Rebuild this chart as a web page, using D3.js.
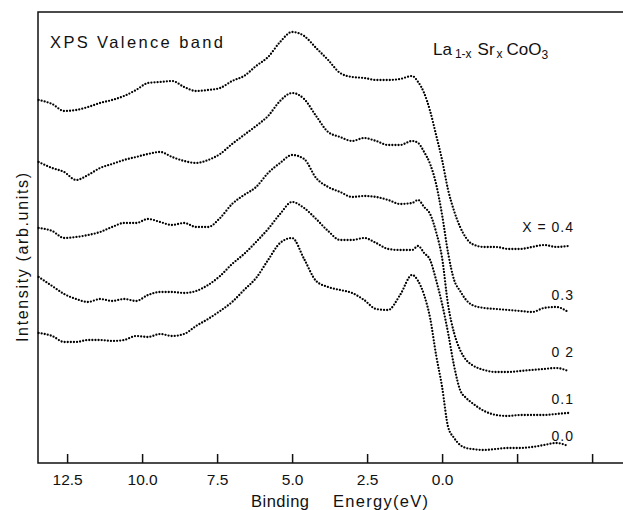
<!DOCTYPE html>
<html>
<head>
<meta charset="utf-8">
<title>XPS Valence band</title>
<script src="https://cdn.jsdelivr.net/npm/d3@7/dist/d3.min.js"></script>
<style>
  body { margin: 0; background: #fff; }
  text { font-family: "Liberation Sans", Arial, sans-serif; fill: #111; }
  .frame { fill: none; stroke: #111; stroke-width: 1.5px; }
  .spec { fill: none; stroke: #000; stroke-width: 2.3px; stroke-linecap: round; stroke-dasharray: 0 3.1; }
</style>
</head>
<body>
<div id="chart"></div>
<script>
// binding energy grid (eV), shared by all spectra
var energy = [13.45, 13.0, 12.6, 12.2, 11.8, 11.4, 11.0, 10.6, 10.2, 9.8, 9.4, 9.0, 8.6, 8.2, 7.8, 7.4, 7.0, 6.6, 6.2, 5.8,
  5.4, 5.0, 4.6, 4.2, 3.8, 3.4, 3.0, 2.6, 2.2, 1.8, 1.4, 1.0, 0.8, 0.6, 0.4, 0.2, 0.0, -0.2, -0.4, -0.6,
  -0.8, -1.0, -1.4, -1.8, -2.2, -2.6, -3.0, -3.4, -3.8, -4.2];

// intensity (arb. units, curves already offset as in the figure)
var x04 = [363, 359, 352, 353, 356, 360, 363, 367, 373, 380, 381, 382, 376, 372, 373, 375, 382, 387, 397, 406,
  421, 431, 427, 415, 403, 390, 386, 385, 383, 383, 384, 387, 381, 370, 352, 328, 303, 273, 252, 236,
  225, 219, 216, 216, 214, 214, 216, 218, 216, 217];
var x03 = [301, 295, 291, 283, 288, 295, 299, 303, 306, 309, 311, 306, 302, 300, 303, 309, 319, 328, 337, 347,
  362, 370, 364, 347, 331, 326, 322, 325, 322, 318, 318, 322, 320, 311, 299, 279, 248, 210, 183, 172,
  163, 158, 155, 154, 153, 152, 151, 155, 156, 151];
var x02 = [235, 232, 225, 226, 228, 231, 236, 240, 240, 244, 241, 238, 240, 236, 236, 245, 259, 268, 276, 290,
  300, 308, 304, 285, 276, 271, 266, 267, 266, 263, 259, 260, 263, 256, 249, 231, 205, 158, 130, 113,
  103, 98, 93, 91, 91, 92, 93, 94, 95, 92];
var x01 = [186, 177, 169, 164, 161, 164, 162, 164, 162, 168, 171, 171, 170, 172, 178, 187, 199, 209, 221, 234,
  249, 261, 255, 244, 232, 223, 223, 225, 220, 214, 213, 213, 217, 210, 203, 183, 159, 130, 97, 73,
  65, 60, 52, 48, 47, 48, 48, 48, 49, 50];
var x00 = [130, 127, 121, 121, 123, 123, 122, 123, 127, 126, 129, 127, 129, 137, 144, 152, 161, 173, 185, 203,
  220, 225, 204, 182, 176, 173, 170, 163, 154, 153, 168, 188, 182, 168, 145, 108, 76, 36, 25, 18,
  15, 14, 13, 14, 15, 15, 16, 18, 20, 17];

var series = [x04, x03, x02, x01, x00];
var seriesLabels = ["X = 0.4", "0.3", "0 2", "0.1", "0.0"];

var tickValues = [12.5, 10.0, 7.5, 5.0, 2.5, 0.0, -2.5, -5.0];
var tickLabels = ["12.5", "10.0", "7.5", "5.0", "2.5", "0.0", "", ""];

var width = 623, height = 510;
var marginLeft = 38, marginTop = 12, axisY = 463;

var x = d3.scaleLinear().domain([13.47, -6.03]).range([marginLeft, width]);
var y = d3.scaleLinear().domain([0, 450]).range([axisY, marginTop + 1]);

var svg = d3.select("#chart").append("svg")
  .attr("width", width)
  .attr("height", height);

// frame: top line, left axis, bottom axis
svg.append("path")
  .attr("class", "frame")
  .attr("d", "M" + width + "," + marginTop + "H" + marginLeft + "V" + axisY + "H" + width);

var xAxis = d3.axisBottom(x)
  .tickValues(tickValues)
  .tickSize(-9)
  .tickPadding(11)
  .tickFormat(function (d, i) { return tickLabels[i]; });

var gx = svg.append("g")
  .attr("transform", "translate(0," + axisY + ")")
  .call(xAxis);
gx.select(".domain").remove();
gx.selectAll(".tick line").attr("stroke", "#111").attr("stroke-width", 1.5);
gx.selectAll(".tick text")
  .attr("font-family", "Liberation Sans, Arial, sans-serif")
  .attr("font-size", 15.5)
  .attr("fill", "#111");

// spectra
var line = d3.line()
  .x(function (d, i) { return x(energy[i]); })
  .y(function (d) { return y(d); })
  .curve(d3.curveMonotoneX);

svg.selectAll(".spec")
  .data(series)
  .enter().append("path")
  .attr("class", "spec")
  .attr("d", line);

// curve labels at the right end
var labelDy = [-14, -12, -14, -9, -5];
svg.selectAll(".lbl")
  .data(series)
  .enter().append("text")
  .attr("class", "lbl")
  .attr("x", 574)
  .attr("y", function (d, i) { return y(d[d.length - 1]) + labelDy[i]; })
  .attr("text-anchor", "end")
  .attr("font-size", 14)
  .attr("letter-spacing", 1)
  .text(function (d, i) { return seriesLabels[i]; });

// titles
svg.append("text")
  .attr("x", 50).attr("y", 48)
  .attr("font-size", 16.5)
  .attr("textLength", 173)
  .attr("lengthAdjust", "spacing")
  .text("XPS  Valence band");

var formula = svg.append("text")
  .attr("x", 433).attr("y", 55)
  .attr("font-size", 17);
formula.append("tspan").text("La");
formula.append("tspan").attr("font-size", 12).attr("dy", 3).attr("dx", 3).text("1-x");
formula.append("tspan").attr("dy", -3).attr("dx", 6).text("Sr");
formula.append("tspan").attr("font-size", 12).attr("dy", 3).attr("dx", 2).text("x");
formula.append("tspan").attr("dy", -3).attr("dx", 4).text("CoO");
formula.append("tspan").attr("font-size", 12).attr("dy", 4).text("3");

svg.append("text")
  .attr("x", 251).attr("y", 507)
  .attr("font-size", 16.5)
  .attr("letter-spacing", 0.5)
  .text("Binding");
svg.append("text")
  .attr("x", 333).attr("y", 507)
  .attr("font-size", 16.5)
  .attr("textLength", 95)
  .attr("lengthAdjust", "spacing")
  .text("Energy(eV)");

svg.append("text")
  .attr("transform", "translate(28,342) rotate(-90)")
  .attr("font-size", 16)
  .attr("textLength", 169)
  .attr("lengthAdjust", "spacing")
  .text("Intensity (arb.units)");
</script>
</body>
</html>
